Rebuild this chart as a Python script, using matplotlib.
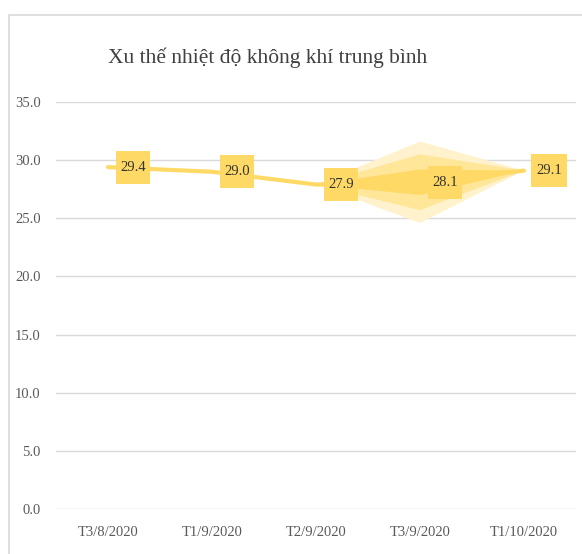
import matplotlib.pyplot as plt
from matplotlib.path import Path
from matplotlib.patches import Rectangle, Polygon

# du lieu
categories = ["T3/8/2020", "T1/9/2020", "T2/9/2020", "T3/9/2020", "T1/10/2020"]
values = [29.4, 29.0, 27.9, 28.1, 29.1]
labels = ["29.4", "29.0", "27.9", "28.1", "29.1"]
yticks = [0, 5, 10, 15, 20, 25, 30, 35]
title = "Xu thế nhiệt độ không khí trung bình"

plt.rcParams["font.family"] = ["Liberation Serif", "DejaVu Serif"]

fig = plt.figure(figsize=(5.82, 5.54), dpi=100)
fig.patches.append(Rectangle((9 / 582, -0.05), 1.2, 1 - 15 / 554 + 0.05,
                             transform=fig.transFigure, fill=False,
                             edgecolor="#D9D9D9", lw=1.2))

ax = fig.add_axes([56 / 582, 1 - 509 / 554, 520 / 582, 407 / 554])
x = list(range(len(categories)))

# vung mo hinh thoi giua T2/9 va T1/10
spreads = [(3.5, "#FFF2CC"), (2.4, "#FFE699"), (1.1, "#FFD966")]
for s, c in spreads:
    pts = [(x[2], values[2]), (x[3], values[3] + s), (x[4], values[4]), (x[3], values[3] - s)]
    ax.add_patch(Polygon(pts, closed=True, facecolor=c, edgecolor="none", zorder=2))

ax.plot(x, values, color="#FFD966", lw=3, solid_capstyle="round", zorder=3)


def tall_box(x0, y0, width, height, mutation_size):
    px = 0.32 * mutation_size
    py = 0.68 * mutation_size
    x0, y0 = x0 - px, y0 - py
    x1, y1 = x0 + width + 2 * px, y0 + height + 2 * py
    return Path([(x0, y0), (x1, y0), (x1, y1), (x0, y1), (x0, y0)], closed=True)


for xi, v, lab in zip(x, values, labels):
    ax.annotate(lab, (xi, v), xytext=(25, 0), textcoords="offset pixels",
                ha="center", va="center", fontsize=10.5, color="#333333",
                bbox=dict(boxstyle=tall_box, facecolor="#FFD966", edgecolor="none"),
                zorder=5)

ax.set_xlim(-0.5, 4.5)
ax.set_ylim(0, 35)
ax.set_yticks(yticks)
ax.set_yticklabels([f"{t:.1f}" for t in yticks])
ax.set_xticks(x)
ax.set_xticklabels(categories)
ax.tick_params(axis="both", length=0, labelsize=10.5, colors="#595959")
ax.tick_params(axis="y", pad=11)
ax.tick_params(axis="x", pad=12)
ax.grid(axis="y", color="#D9D9D9", lw=1)
ax.set_axisbelow(True)
for sp in ax.spines.values():
    sp.set_visible(False)

fig.text(268 / 582, 1 - 58 / 554, title, ha="center", va="center",
         fontsize=15.5, color="#404040")

plt.savefig("out.png", dpi=100)
